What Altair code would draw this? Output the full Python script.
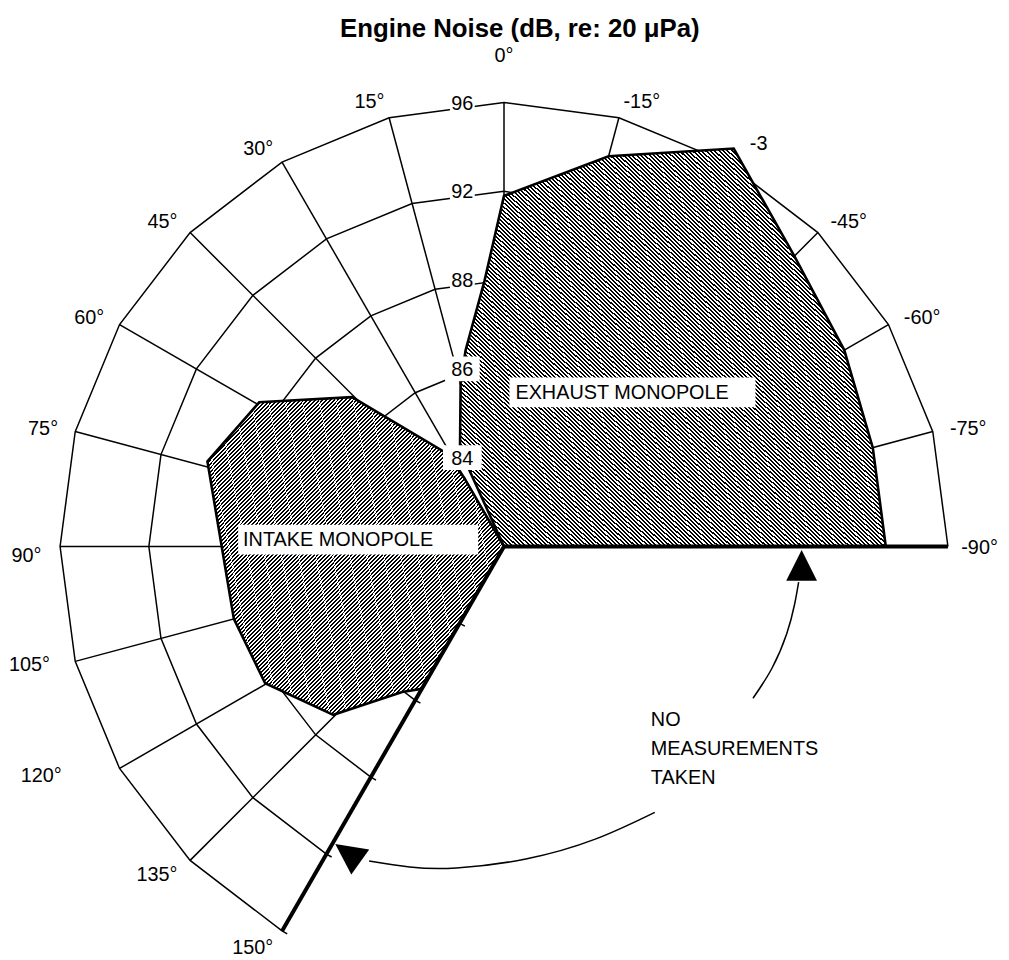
import math
import altair as alt
import pandas as pd

# ---------------- values ----------------
spoke_angles = [-90, -75, -60, -45, -30, -15, 0, 15, 30, 45, 60, 75, 90, 105, 120, 135, 150]
spoke_labels = ["-90°", "-75°", "-60°", "-45°", "-3", "-15°", "0°", "15°", "30°", "45°",
                "60°", "75°", "90°", "105°", "120°", "135°", "150°"]
ring_levels = [84, 86, 88, 92, 96]
ring_labels = ["84", "86", "88", "92", "96"]
centre_level = 82
no_data_angles = [-90, 150]

# polygon vertices: angle (deg, + = counter-clockwise from 0° at top), level (dB)
exhaust_angles = [0, -90, -75, -60, -45, -30, -15, 0, 4.2, 11.1, 14.9, 24.4]
exhaust_levels = [82, 93.2, 93.2, 93.7, 94.5, 96.7, 94.2, 91.8, 88.0, 86.5, 85.8, 84.4]

intake_angles = [0, 30.1, 32.0, 45.5, 59.5, 74.0, 105.0, 119.8, 134.6, 145.0, 150.0]
intake_levels = [82, 83.8, 84.5, 86.8, 88.8, 89.9, 88.6, 88.4, 87.4, 86.0, 85.7]

title_text = "Engine Noise (dB, re: 20 μPa)"
exhaust_text = "EXHAUST MONOPOLE"
intake_text = "INTAKE MONOPOLE"
note_lines = ["NO", "MEASUREMENTS", "TAKEN"]

# ---------------- layout ----------------
U = 89.5                 # pixels per ring step
W, H = 1001, 950
CX, CY = 500.0, 539.0    # pole position inside the plot area
FONT = "Liberation Sans"

# where each angle label sits (label angle, radius in ring steps); default below
LABEL_R_DEFAULT = 5.2
label_place = {0: (0, 5.52), 90: (91.0, 5.21), 105: (104.4, 5.28), 120: (117.2, 5.60),
               -30: (-31.3, 5.33), -90: (-90, 5.15)}

xs = alt.Scale(domain=[-CX / U, (W - CX) / U], nice=False, zero=False)
ys = alt.Scale(domain=[(CY - H) / U, CY / U], nice=False, zero=False)
XP = alt.X("px:Q", scale=xs, axis=None)
YP = alt.Y("py:Q", scale=ys, axis=None)

LEVEL_TO_R = ("datum.level <= 84 ? (datum.level - 82) / 2 : "
              "(datum.level <= 88 ? 1 + (datum.level - 84) / 2 : 3 + (datum.level - 88) / 4)")


def level_r(lv):
    if lv <= 84:
        return (lv - 82) / 2
    if lv <= 88:
        return 1 + (lv - 84) / 2
    return 3 + (lv - 88) / 4


def polar(base, r_expr=LEVEL_TO_R, angle_field="angle"):
    return base.transform_calculate(r=r_expr).transform_calculate(
        px=f"-datum.r * sin(datum.{angle_field} * PI / 180)",
        py=f"datum.r * cos(datum.{angle_field} * PI / 180)",
    )


def page(px, py):
    """page pixel -> chart units (for annotations only)"""
    return (px - 8 - CX) / U, (8 + CY - py) / U


def hatch(period_px, extent_px, x1, y1, x2, y2, duty=0.48):
    n = max(1, int(round(extent_px / period_px)))
    stops = []
    for i in range(n):
        a = i / n
        b = (i + duty) / n
        c = (i + 1) / n
        stops += [
            alt.GradientStop(color="black", offset=round(a, 6)),
            alt.GradientStop(color="black", offset=round(b, 6)),
            alt.GradientStop(color="white", offset=round(b, 6)),
            alt.GradientStop(color="white", offset=round(c, 6)),
        ]
    return alt.LinearGradient(gradient="linear", stops=stops, x1=x1, y1=y1, x2=x2, y2=y2)


# ---------------- grid ----------------
ring_rows = []
for lv in ring_levels:
    for i, a in enumerate(spoke_angles):
        ring_rows.append({"ring": lv, "angle": a, "level": lv, "o": i})
    ext = math.degrees(6.0 / (level_r(lv) * U))
    ring_rows.append({"ring": lv, "angle": spoke_angles[-1] + ext, "level": lv, "o": len(spoke_angles)})

rings = polar(alt.Chart(pd.DataFrame(ring_rows))).mark_line(
    color="black", strokeWidth=1.5
).encode(x=XP, y=YP, detail="ring:N", order="o:Q")

spoke_rows = [{"angle": a, "level": lv, "o": j}
              for a in spoke_angles for j, lv in enumerate([centre_level, ring_levels[-1]])]
spoke_df = pd.DataFrame(spoke_rows)
spokes = polar(alt.Chart(spoke_df)).mark_line(
    color="black", strokeWidth=1.5
).encode(x=XP, y=YP, detail="angle:N", order="o:Q")

thick = polar(alt.Chart(spoke_df[spoke_df["angle"].isin(no_data_angles)])).mark_line(
    color="black", strokeWidth=4
).encode(x=XP, y=YP, detail="angle:N", order="o:Q")

# ---------------- polygons ----------------
exh_df = pd.DataFrame({"angle": exhaust_angles, "level": exhaust_levels,
                       "idx": list(range(len(exhaust_angles)))})
int_df = pd.DataFrame({"angle": intake_angles, "level": intake_levels,
                       "idx": list(range(len(intake_angles)))})

exhaust = polar(alt.Chart(exh_df)).mark_line(
    interpolate="linear-closed", stroke="black", strokeWidth=2.6, strokeJoin="miter",
    fill=hatch(3.0, 586, 0, 1, 1, 0),
).encode(x=XP, y=YP, order="idx:Q")

intake = polar(alt.Chart(int_df)).mark_line(
    interpolate="linear-closed", stroke="black", strokeWidth=2.6, strokeJoin="miter",
    fill=hatch(2.9, 454, 0, 0, 1, 1),
).encode(x=XP, y=YP, order="idx:Q")

# ---------------- ring labels ----------------
S = 40.0
box_w = [39, 35, 25, 25, 25]
box_h = [25, 25, 19, 19, 19]
box_paths = [f"M{-w / S:.4f},{-h / S:.4f}H{w / S:.4f}V{h / S:.4f}H{-w / S:.4f}Z"
             for w, h in zip(box_w, box_h)]
rl_df = pd.DataFrame({"angle": [0] * len(ring_levels), "level": ring_levels, "label": ring_labels})
ring_boxes = polar(alt.Chart(rl_df)).mark_point(
    filled=True, fill="white", opacity=1, strokeWidth=0, size=S * S, xOffset=-42
).encode(x=XP, y=YP,
         shape=alt.Shape("label:N", scale=alt.Scale(domain=ring_labels, range=box_paths), legend=None))
ring_text = polar(alt.Chart(rl_df)).mark_text(
    font=FONT, fontSize=20, align="center", baseline="middle", dx=-42, dy=1, color="black"
).encode(x=XP, y=YP, text="label:N")

# ---------------- angle labels ----------------
al_df = pd.DataFrame({
    "angle": spoke_angles,
    "label": spoke_labels,
    "la": [label_place.get(a, (a, LABEL_R_DEFAULT))[0] for a in spoke_angles],
    "lr": [label_place.get(a, (a, LABEL_R_DEFAULT))[1] for a in spoke_angles],
})
lab_left = polar(alt.Chart(al_df).transform_filter("datum.angle > 0"), "datum.lr", "la").mark_text(
    font=FONT, fontSize=20, align="right", baseline="middle", dy=2, color="black"
).encode(x=XP, y=YP, text="label:N")
lab_right = polar(alt.Chart(al_df).transform_filter("datum.angle < 0"), "datum.lr", "la").mark_text(
    font=FONT, fontSize=20, align="left", baseline="middle", dy=2, color="black"
).encode(x=XP, y=YP, text="label:N")
lab_top = polar(alt.Chart(al_df).transform_filter("datum.angle == 0"), "datum.lr", "la").mark_text(
    font=FONT, fontSize=20, align="center", baseline="middle", color="black"
).encode(x=XP, y=YP, text="label:N")

# ---------------- annotations ----------------
def box_row(cx, cy, w, h):
    x1, y1 = page(cx - w / 2, cy + h / 2)
    x2, y2 = page(cx + w / 2, cy - h / 2)
    return {"x1": x1, "x2": x2, "y1": y1, "y2": y2}


mono_boxes = pd.DataFrame([box_row(637.5, 391.7, 248, 30), box_row(361, 540, 242, 30)])
mono_box_layer = alt.Chart(mono_boxes).mark_rect(color="white", opacity=1).encode(
    x=alt.X("x1:Q", scale=xs, axis=None), x2="x2:Q",
    y=alt.Y("y1:Q", scale=ys, axis=None), y2="y2:Q")

ex_x, ex_y = page(519.5, 392.5)
in_x, in_y = page(245, 540.5)
mono_text_df = pd.DataFrame({"x": [ex_x, in_x], "y": [ex_y, in_y], "t": [exhaust_text, intake_text]})
mono_text = alt.Chart(mono_text_df).mark_text(
    font=FONT, fontSize=20, align="left", baseline="middle", color="black"
).encode(x=alt.X("x:Q", scale=xs, axis=None), y=alt.Y("y:Q", scale=ys, axis=None), text="t:N")

tx, ty = page(524, 33)
title = alt.Chart(pd.DataFrame({"x": [tx], "y": [ty], "t": [title_text]})).mark_text(
    font=FONT, fontSize=26, fontWeight="bold", align="center", baseline="alphabetic", color="black"
).encode(x=alt.X("x:Q", scale=xs, axis=None), y=alt.Y("y:Q", scale=ys, axis=None), text="t:N")

note_pos = [page(656, 722), page(656, 751), page(656, 780)]
note_df = pd.DataFrame({"x": [p[0] for p in note_pos], "y": [p[1] for p in note_pos], "t": note_lines})
note = alt.Chart(note_df).mark_text(
    font=FONT, fontSize=20, align="left", baseline="middle", color="black"
).encode(x=alt.X("x:Q", scale=xs, axis=None), y=alt.Y("y:Q", scale=ys, axis=None), text="t:N")

up_curve = [(759, 700), (778, 670), (793, 635), (801, 605), (805, 583)]
left_curve = [(660, 815), (600, 842), (530, 862), (460, 871), (413, 870), (372, 864)]
curve_rows = []
for cid, pts in (("up", up_curve), ("left", left_curve)):
    for i, (px, py) in enumerate(pts):
        ux, uy = page(px, py)
        curve_rows.append({"c": cid, "o": i, "x": ux, "y": uy})
curves = alt.Chart(pd.DataFrame(curve_rows)).mark_line(
    color="black", strokeWidth=1.5, interpolate="natural"
).encode(x=alt.X("x:Q", scale=xs, axis=None), y=alt.Y("y:Q", scale=ys, axis=None),
         detail="c:N", order="o:Q")

TRI = "M0,-1L1,1L-1,1Z"
ux1, uy1 = page(808, 566)
ux2, uy2 = page(350.5, 856)
head_up = alt.Chart(pd.DataFrame({"x": [ux1], "y": [uy1]})).mark_point(
    shape=TRI, filled=True, color="black", opacity=1, size=31 * 31, strokeWidth=0
).encode(x=alt.X("x:Q", scale=xs, axis=None), y=alt.Y("y:Q", scale=ys, axis=None))
head_left = alt.Chart(pd.DataFrame({"x": [ux2], "y": [uy2]})).mark_point(
    shape=TRI, filled=True, color="black", opacity=1, size=31 * 31, strokeWidth=0, angle=305.6
).encode(x=alt.X("x:Q", scale=xs, axis=None), y=alt.Y("y:Q", scale=ys, axis=None))

chart = alt.layer(
    rings, spokes, exhaust, intake, thick,
    ring_boxes, ring_text, mono_box_layer, mono_text,
    lab_left, lab_right, lab_top, title, note, curves, head_up, head_left,
).properties(
    width=W, height=H, padding=0, background="white",
    autosize=alt.AutoSizeParams(type="none"),
).configure_view(stroke=None)

chart.save("out.html", embed_options={"renderer": "svg", "actions": False})
